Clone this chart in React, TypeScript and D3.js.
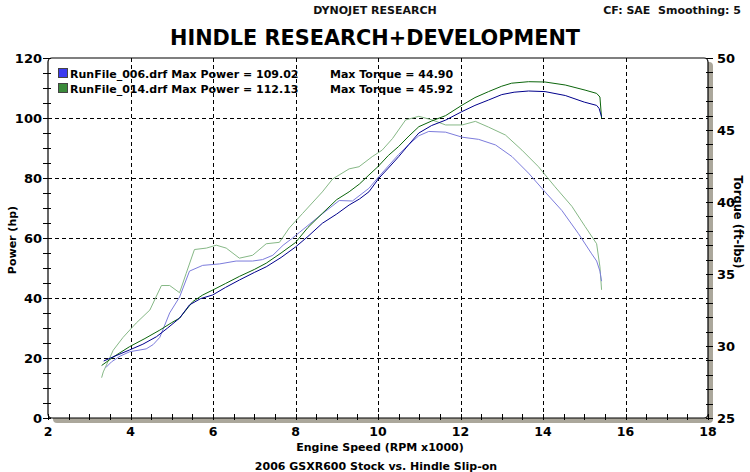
import React from "react";
import * as d3 from "d3";

// ---------- DATA ----------
const xTicks = [2, 4, 6, 8, 10, 12, 14, 16, 18];
const hpTicks = [0, 20, 40, 60, 80, 100, 120];
const tqTicks = [25, 30, 35, 40, 45, 50];

const power006: [number, number][] = [
  [3.35, 19.0], [3.6, 20.5], [3.98, 22.7], [4.3, 24.6], [4.63, 27.1], [4.9, 30.0],
  [5.19, 33.3], [5.43, 37.7], [5.7, 39.8], [5.99, 41.0], [6.3, 43.5], [6.64, 46.0],
  [7.0, 48.5], [7.29, 50.4], [7.65, 53.5], [8.0, 57.0], [8.3, 60.5], [8.65, 64.9],
  [9.0, 68.0], [9.3, 71.0], [9.55, 73.0], [9.78, 75.4], [10.02, 79.9], [10.25, 83.3],
  [10.5, 87.1], [10.75, 91.2], [10.99, 95.0], [11.3, 97.5], [11.64, 99.3], [12.03, 102.1],
  [12.35, 104.2], [12.68, 106.0], [13.0, 107.8], [13.3, 108.6], [13.65, 109.0], [14.05, 108.8],
  [14.54, 107.5], [15.0, 105.3], [15.3, 104.2], [15.36, 103.2], [15.42, 100.4],
];

const power014: [number, number][] = [
  [3.3, 17.5], [3.6, 20.5], [3.98, 23.8], [4.35, 26.5], [4.71, 29.3], [5.0, 31.8],
  [5.19, 33.3], [5.51, 38.8], [5.75, 41.0], [6.0, 42.7], [6.3, 44.8], [6.64, 47.2],
  [7.0, 49.5], [7.29, 51.6], [7.65, 55.0], [8.0, 58.5], [8.3, 63.5], [8.65, 68.2],
  [9.0, 72.8], [9.3, 75.4], [9.55, 78.0], [9.78, 81.0], [10.0, 83.8], [10.25, 87.5],
  [10.5, 90.5], [10.75, 94.0], [10.99, 97.1], [11.3, 99.0], [11.64, 100.8], [12.04, 104.3],
  [12.35, 106.8], [12.68, 108.8], [13.0, 110.6], [13.24, 111.6], [13.65, 112.1], [14.05, 112.0],
  [14.54, 111.0], [15.02, 109.3], [15.3, 108.2], [15.38, 107.0], [15.42, 99.9],
];

const torque006: [number, number][] = [
  [3.4, 28.5], [3.54, 28.9], [3.75, 29.3], [3.98, 29.6], [4.38, 29.8], [4.55, 30.1],
  [4.71, 30.6], [4.95, 32.3], [5.19, 33.4], [5.43, 35.2], [5.75, 35.6], [6.16, 35.7],
  [6.56, 35.9], [6.96, 35.9], [7.2, 36.0], [7.45, 36.3], [7.7, 37.0], [7.93, 37.5],
  [8.1, 37.9], [8.57, 39.0], [9.06, 40.1], [9.38, 40.07], [9.78, 40.95], [10.02, 41.76],
  [10.5, 43.3], [10.75, 44.0], [10.99, 44.6], [11.23, 44.9], [11.64, 44.85], [12.04, 44.5],
  [12.44, 44.35], [12.85, 43.96], [13.25, 43.15], [13.65, 42.0], [14.05, 40.7], [14.46, 39.4],
  [14.86, 37.8], [15.18, 36.4], [15.3, 35.9], [15.38, 35.2], [15.42, 34.5],
];

const torque014: [number, number][] = [
  [3.3, 27.8], [3.34, 28.2], [3.58, 29.7], [3.82, 30.6], [4.14, 31.6], [4.47, 32.5],
  [4.75, 34.2], [4.95, 34.2], [5.19, 33.7], [5.35, 35.05], [5.55, 36.7], [5.84, 36.8],
  [6.08, 37.0], [6.32, 36.8], [6.64, 36.1], [6.96, 36.3], [7.29, 37.1], [7.61, 37.2],
  [7.85, 38.2], [8.17, 39.2], [8.65, 40.7], [8.9, 41.6], [9.3, 42.3], [9.54, 42.45],
  [9.86, 43.15], [10.1, 43.6], [10.35, 44.4], [10.67, 45.7], [10.99, 45.95], [11.31, 45.7],
  [11.64, 45.35], [12.04, 45.35], [12.36, 45.6], [12.68, 45.2], [13.09, 44.65], [13.49, 43.6],
  [13.89, 42.45], [14.29, 41.06], [14.7, 39.7], [15.02, 38.3], [15.3, 37.1], [15.38, 35.5],
  [15.42, 33.9],
];

const legendNames = ["RunFile_006.drf", "RunFile_014.drf"];
const legendPower = ["109.02", "112.13"];
const legendTorque = ["44.90", "45.92"];

// ---------- STYLE ----------
const W = 750, H = 472;
const L = 48, R = 708, T = 58, B = 418;
const FONT = "'DejaVu Sans', Verdana, sans-serif";
const darkBlue = "#00008c";
const lightBlue = "#7c7cdc";
const darkGreen = "#0b650b";
const lightGreen = "#86b886";
const shadow = "#aba79b";

export default function App() {
  const x = d3.scaleLinear().domain([2, 18]).range([L, R]);
  const yHp = d3.scaleLinear().domain([0, 120]).range([B, T]);
  const yTq = d3.scaleLinear().domain([25, 50]).range([B, T]);

  const lineHp = d3.line<[number, number]>().x((d) => x(d[0])).y((d) => yHp(d[1]));
  const lineTq = d3.line<[number, number]>().x((d) => x(d[0])).y((d) => yTq(d[1]));

  const minorX = d3.range(2, 18.001, 0.5);
  const minorHp = d3.range(0, 120.001, 5);
  const minorTq = d3.range(25, 50.001, 1);

  const rr = (x0: number, y0: number, x1: number, y1: number) => (
    <rect x={x0} y={y0} width={x1 - x0} height={y1 - y0} rx={4} ry={4} />
  );

  return (
    <svg width={W} height={H} style={{ position: "absolute", left: 0, top: 0, background: "#fff" }}
      fontFamily={FONT}>
      <rect x={0} y={0} width={W} height={H} fill="#fff" />
      {/* header */}
      <text x={375} y={14} textAnchor="middle" fontSize={11} fontWeight="bold" fill="#111">DYNOJET RESEARCH</text>
      <text x={741} y={14} textAnchor="end" fontSize={11} fontWeight="bold" fill="#111">{"CF: SAE\u00a0\u00a0Smoothing: 5"}</text>
      <text x={375} y={45} textAnchor="middle" fontSize={22} fontWeight="bold" fill="#000"
        textLength={410} lengthAdjust="spacingAndGlyphs">HINDLE RESEARCH+DEVELOPMENT</text>

      {/* frame shadow + frame */}
      <g fill={shadow} stroke="none">{rr(L + 5, T + 4, R + 5, B + 5)}</g>
      <g fill="#fff" stroke="#000" strokeWidth={1.2}>{rr(L, T, R, B)}</g>

      {/* gridlines */}
      <g stroke="#000" strokeWidth={1} strokeDasharray="4,3">
        {xTicks.slice(1, -1).map((t) => (
          <line key={"gx" + t} x1={Math.round(x(t)) + 0.5} x2={Math.round(x(t)) + 0.5} y1={T} y2={B} />
        ))}
        {hpTicks.slice(1, -1).map((t) => (
          <line key={"gy" + t} x1={L} x2={R} y1={Math.round(yHp(t)) + 0.5} y2={Math.round(yHp(t)) + 0.5} />
        ))}
      </g>

      {/* ticks */}
      <g stroke="#000" strokeWidth={1}>
        {minorX.map((t) => (
          <line key={"tx" + t} x1={Math.round(x(t)) + 0.5} x2={Math.round(x(t)) + 0.5} y1={B - 4} y2={B + 2} />
        ))}
        {minorHp.map((t) => (
          <line key={"th" + t} x1={L - 5} x2={L + 3} y1={Math.round(yHp(t)) + 0.5} y2={Math.round(yHp(t)) + 0.5} />
        ))}
        {minorTq.map((t) => (
          <line key={"tt" + t} x1={R - 2} x2={R + 5} y1={Math.round(yTq(t)) + 0.5} y2={Math.round(yTq(t)) + 0.5} />
        ))}
      </g>

      {/* tick labels */}
      <g fontSize={13} fontWeight="bold" fill="#000">
        {hpTicks.map((t) => (
          <text key={"lh" + t} x={42} y={yHp(t) + 5} textAnchor="end">{t}</text>
        ))}
        {tqTicks.map((t) => (
          <text key={"lt" + t} x={717} y={yTq(t) + 5}>{t}</text>
        ))}
      </g>
      <g fontSize={12.5} fontWeight="bold" fill="#000">
        {xTicks.map((t) => (
          <text key={"lx" + t} x={x(t)} y={436} textAnchor="middle">{t}</text>
        ))}
      </g>

      {/* axis titles */}
      <text transform="translate(16,240) rotate(-90)" textAnchor="middle" fontSize={11} fontWeight="bold">Power (hp)</text>
      <text transform="translate(734,222) rotate(90)" textAnchor="middle" fontSize={11.5} fontWeight="bold">Torque (ft-lbs)</text>
      <text x={380} y={451} textAnchor="middle" fontSize={11} fontWeight="bold">Engine Speed (RPM x1000)</text>
      <text x={376} y={470} textAnchor="middle" fontSize={11} fontWeight="bold">2006 GSXR600 Stock vs. Hindle Slip-on</text>

      {/* curves */}
      <g fill="none" strokeWidth={1} strokeLinejoin="round">
        <path d={lineTq(torque014) || ""} stroke={lightGreen} />
        <path d={lineTq(torque006) || ""} stroke={lightBlue} />
        <path d={lineHp(power014) || ""} stroke={darkGreen} />
        <path d={lineHp(power006) || ""} stroke={darkBlue} />
      </g>

      {/* legend */}
      <g fontSize={11} fontWeight="bold" fill="#000">
        {legendNames.map((n, i) => (
          <g key={n}>
            <rect x={58.5} y={68.5 + i * 15} width={9} height={9}
              fill={i === 0 ? "#3a3af0" : "#3a8a3a"} stroke="#444" />
            <text x={70} y={78 + i * 15}>{`${n} Max Power = ${legendPower[i]}`}</text>
            <text x={330} y={78 + i * 15}>{`Max Torque = ${legendTorque[i]}`}</text>
          </g>
        ))}
      </g>
    </svg>
  );
}
